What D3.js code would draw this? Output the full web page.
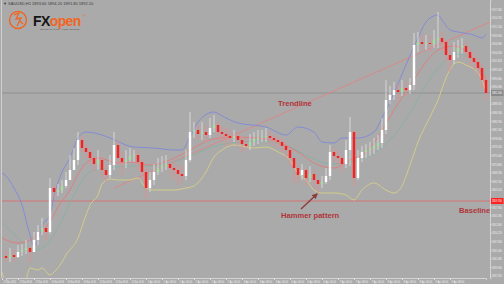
<!DOCTYPE html>
<html>
<head>
<meta charset="utf-8">
<script src="https://cdn.jsdelivr.net/npm/d3@7"></script>
<style>
  html, body { margin: 0; padding: 0; background: #aaaaaa; }
  svg { display: block; font-family: "Liberation Sans", Arial, sans-serif; }
</style>
</head>
<body>
<svg id="chart" width="504" height="284"></svg>
<script>
// hourly candles, index 0..120
const closes = [
  1842.6, 1843.5, 1842.9, 1844.4, 1845.0, 1845.6, 1844.4, 1848.0, 1850.4, 1851.6,
  1850.4, 1863.6, 1862.4, 1863.0, 1864.2, 1866.0, 1869.0, 1872.0, 1878.0, 1875.6,
  1874.4, 1872.6, 1870.8, 1872.0, 1869.0, 1867.5, 1870.5, 1876.5, 1872.6, 1871.4,
  1872.0, 1873.2, 1873.5, 1871.4, 1868.4, 1863.6, 1866.0, 1868.4, 1869.6, 1870.2,
  1870.8, 1869.6, 1869.0, 1867.8, 1867.2, 1872.0, 1880.4, 1881.0, 1879.8, 1880.4,
  1879.5, 1881.6, 1882.5, 1880.4, 1879.8, 1879.2, 1878.6, 1879.2, 1878.0, 1876.8,
  1876.2, 1877.4, 1878.3, 1878.6, 1878.9, 1879.2, 1878.6, 1878.0, 1877.4, 1876.2,
  1875.0, 1872.6, 1869.6, 1867.5, 1869.0, 1866.6, 1867.8, 1866.0, 1864.8, 1865.4,
  1867.2, 1874.4, 1873.2, 1872.6, 1870.8, 1875.0, 1880.4, 1866.6, 1872.6, 1874.4,
  1875.0, 1875.6, 1876.2, 1877.1, 1881.0, 1890.0, 1891.5, 1893.0, 1892.4, 1893.6,
  1893.0, 1894.5, 1906.5, 1907.4, 1906.8, 1907.1, 1906.8, 1908.0, 1908.6, 1907.4,
  1903.5, 1902.0, 1904.4, 1905.6, 1906.2, 1904.4, 1902.6, 1901.4, 1899.6, 1896.0,
  1892.1
];
const highs = [
  1845.0, 1845.6, 1845.0, 1846.5, 1846.8, 1848.0, 1846.2, 1850.4, 1852.5, 1854.6,
  1852.5, 1866.6, 1864.5, 1864.8, 1866.0, 1868.4, 1873.5, 1875.6, 1880.4, 1879.2,
  1876.8, 1875.6, 1873.5, 1875.0, 1873.2, 1870.5, 1873.5, 1880.4, 1878.0, 1874.4,
  1875.0, 1875.6, 1875.0, 1875.0, 1872.0, 1869.6, 1868.4, 1870.8, 1872.6, 1873.2,
  1873.5, 1872.0, 1871.4, 1870.5, 1870.2, 1875.0, 1886.4, 1883.4, 1882.5, 1883.4,
  1882.2, 1884.6, 1885.5, 1883.4, 1882.2, 1881.6, 1881.0, 1881.0, 1880.4, 1879.2,
  1878.6, 1879.8, 1880.4, 1881.0, 1881.0, 1881.6, 1881.0, 1879.8, 1879.2, 1878.6,
  1877.4, 1875.6, 1872.6, 1870.8, 1870.8, 1869.6, 1870.2, 1869.0, 1866.0, 1867.2,
  1869.6, 1876.5, 1875.6, 1875.0, 1873.2, 1878.0, 1884.9, 1881.0, 1875.0, 1876.2,
  1876.8, 1877.4, 1878.6, 1879.5, 1884.6, 1896.0, 1894.2, 1895.4, 1894.8, 1896.0,
  1895.4, 1896.6, 1910.1, 1910.4, 1909.8, 1909.5, 1909.2, 1911.0, 1916.4, 1910.4,
  1908.0, 1905.6, 1907.4, 1908.0, 1908.6, 1907.4, 1905.6, 1904.4, 1902.6, 1900.8,
  1897.2
];
const lows = [
  1841.4, 1841.4, 1841.4, 1842.6, 1843.2, 1843.8, 1841.4, 1844.4, 1846.5, 1849.5,
  1848.0, 1849.8, 1860.6, 1861.2, 1862.1, 1863.6, 1866.6, 1869.6, 1870.5, 1874.4,
  1872.6, 1870.5, 1868.4, 1869.0, 1866.6, 1865.4, 1866.6, 1869.0, 1870.5, 1867.5,
  1869.6, 1871.4, 1871.4, 1869.0, 1866.0, 1860.6, 1862.4, 1864.5, 1867.5, 1868.4,
  1869.0, 1867.5, 1866.0, 1864.5, 1865.4, 1866.0, 1871.4, 1878.6, 1878.0, 1878.0,
  1877.4, 1878.6, 1880.4, 1878.0, 1878.0, 1876.2, 1876.2, 1877.4, 1876.2, 1874.4,
  1875.0, 1875.0, 1876.2, 1876.8, 1877.4, 1877.4, 1876.8, 1876.2, 1875.6, 1874.4,
  1872.6, 1870.2, 1865.1, 1865.1, 1866.0, 1864.2, 1865.4, 1863.6, 1861.8, 1863.6,
  1864.8, 1866.0, 1871.4, 1870.5, 1868.4, 1869.6, 1870.2, 1864.2, 1866.0, 1871.4,
  1872.6, 1873.2, 1873.8, 1875.0, 1875.6, 1879.8, 1888.8, 1890.0, 1890.0, 1891.2,
  1891.2, 1891.8, 1893.0, 1904.4, 1905.0, 1905.0, 1904.4, 1905.6, 1905.6, 1905.0,
  1901.4, 1898.4, 1900.8, 1902.6, 1903.8, 1902.6, 1900.2, 1899.0, 1897.2, 1893.6,
  1890.0
];
const firstOpen = 1843.2;

// indicator lines: [candle index, price]
const upperBand = [
  [-1, 1868.1], [0, 1867.2], [2, 1863.6], [4, 1858.5], [6, 1849.5], [7, 1846.2], [8, 1848.0],
  [9, 1852.2], [11, 1855.5], [12, 1861.2], [14, 1868.4], [16, 1872.6], [18, 1878.6], [20, 1880.4],
  [24, 1879.5], [26, 1878.6], [32, 1875.9], [37, 1875.6], [42, 1875.0], [44, 1875.0], [46, 1878.9],
  [48, 1883.4], [52, 1886.4], [54, 1885.2], [58, 1883.1], [65, 1881.9], [70, 1879.5], [73, 1881.9],
  [77, 1880.4], [79, 1877.4], [82, 1877.1], [84, 1878.6], [88, 1878.6], [92, 1880.4], [94, 1884.6],
  [97, 1892.1], [100, 1900.5], [103, 1908.6], [105, 1913.4], [108, 1915.5], [109, 1914.0],
  [111, 1911.0], [113, 1910.4], [117, 1909.5], [119, 1908.6], [120, 1909.8]
];
const lowerBand = [
  [-1, 1838.4], [0, 1835.4], [3, 1833.0], [5, 1836.0], [6, 1839.6], [7, 1839.3], [8, 1839.0],
  [9, 1839.6], [11, 1837.5], [12, 1838.4], [14, 1841.4], [15, 1843.5], [18, 1848.6], [20, 1855.5],
  [21, 1858.5], [23, 1861.5], [24, 1864.8], [26, 1866.3], [28, 1866.0], [31, 1866.0], [33, 1866.6],
  [35, 1863.6], [37, 1863.0], [42, 1863.0], [45, 1863.6], [47, 1864.2], [49, 1866.6], [50, 1868.4],
  [52, 1872.9], [54, 1875.0], [57, 1876.5], [62, 1875.6], [65, 1875.9], [68, 1874.4], [71, 1872.0],
  [73, 1868.1], [75, 1866.0], [77, 1863.0], [79, 1862.1], [82, 1862.1], [85, 1861.5], [87, 1860.0],
  [89, 1863.0], [92, 1865.1], [95, 1863.0], [97, 1862.1], [99, 1864.2], [101, 1870.5], [103, 1877.4],
  [106, 1884.9], [108, 1890.0], [110, 1896.6], [112, 1900.8], [113, 1901.4], [115, 1900.5],
  [118, 1898.1], [119, 1896.0], [120, 1892.4]
];
const fastMA = [
  [-1, 1848.6], [3, 1847.1], [6, 1848.0], [8, 1849.8], [11, 1853.4], [13, 1857.9], [16, 1863.0],
  [18, 1867.8], [21, 1872.0], [23, 1872.6], [28, 1871.1], [31, 1871.4], [36, 1870.5], [41, 1872.0],
  [46, 1875.0], [51, 1878.0], [56, 1878.9], [63, 1878.6], [68, 1877.4], [73, 1874.4], [78, 1870.5],
  [82, 1869.6], [86, 1872.0], [90, 1874.4], [93, 1878.9], [97, 1887.0], [101, 1894.2], [105, 1901.4],
  [108, 1905.0], [112, 1906.2], [116, 1903.5], [120, 1896.0]
];
const slowMA = [
  [-1, 1853.4], [3, 1848.6], [7, 1845.0], [10, 1846.5], [13, 1851.6], [17, 1861.5], [21, 1868.4],
  [26, 1869.6], [31, 1870.2], [36, 1870.2], [41, 1871.1], [46, 1873.2], [51, 1875.6], [56, 1877.1],
  [63, 1877.7], [71, 1875.9], [76, 1872.9], [81, 1870.8], [86, 1871.4], [91, 1873.2], [96, 1878.0],
  [101, 1886.1], [105, 1894.5], [108, 1899.6], [113, 1903.8], [117, 1902.0], [120, 1897.5]
];
const trendline = [[27, 1863.6], [121, 1913.4]];
const baseline = 1859.7;

const priceTicks = d3.range(32).map(k => 1917.3 - 2.58 * k);
const timeLabels = [
  '27 Mar 2020', '27 Mar 08:00', '27 Mar 16:00', '30 Mar 00:00', '30 Mar 08:00', '30 Mar 16:00',
  '31 Mar 00:00', '31 Mar 08:00', '31 Mar 16:00', '1 Apr 00:00', '1 Apr 08:00', '1 Apr 16:00',
  '2 Apr 00:00', '2 Apr 08:00', '2 Apr 16:00', '3 Apr 00:00', '3 Apr 08:00', '3 Apr 16:00',
  '6 Apr 00:00', '6 Apr 08:00', '6 Apr 16:00', '7 Apr 00:00', '7 Apr 08:00', '7 Apr 16:00',
  '8 Apr 00:00', '8 Apr 08:00', '8 Apr 16:00', '9 Apr 00:00', '9 Apr 08:00'
];

const svg = d3.select('#chart');
const W = 504, H = 284;
const plotRight = 490, plotBottom = 278;
const squeeze = 0.62; // horizontal squeeze for the narrow price labels

const x = d3.scaleLinear().domain([0, 120]).range([6, 486]);
const y = d3.scaleLinear().domain([1836.6, 1920]).range([plotBottom, 0]);
const lastClose = closes[closes.length - 1];

svg.append('rect').attr('width', W).attr('height', H).attr('fill', '#aaaaaa');

svg.append('defs').append('clipPath').attr('id', 'plot')
  .append('rect').attr('x', 2).attr('y', 0).attr('width', plotRight - 2).attr('height', plotBottom);

const plot = svg.append('g').attr('clip-path', 'url(#plot)');

// horizontal levels
plot.append('line')
  .attr('x1', 0).attr('x2', plotRight)
  .attr('y1', y(lastClose)).attr('y2', y(lastClose))
  .attr('stroke', '#8c8c8c').attr('stroke-width', 0.8);
plot.append('line')
  .attr('x1', 0).attr('x2', plotRight)
  .attr('y1', y(baseline)).attr('y2', y(baseline))
  .attr('stroke', '#e06464').attr('stroke-width', 0.8);

// trendline
plot.append('line')
  .attr('x1', x(trendline[0][0])).attr('y1', y(trendline[0][1]))
  .attr('x2', x(trendline[1][0])).attr('y2', y(trendline[1][1]))
  .attr('stroke', '#e48080').attr('stroke-width', 0.8);

const line = d3.line().x(d => x(d[0])).y(d => y(d[1])).curve(d3.curveMonotoneX);
const lines = [
  [upperBand, '#8088d8'],
  [lowerBand, '#d6cf86'],
  [slowMA, '#88b0a4'],
  [fastMA, '#e27a7a']
];
lines.forEach(([data, color]) => {
  plot.append('path').datum(data)
    .attr('d', line).attr('fill', 'none')
    .attr('stroke', color).attr('stroke-width', 0.9);
});

// candles
const candles = closes.map((c, i) => ({
  i, c, o: i === 0 ? firstOpen : closes[i - 1], h: highs[i], l: lows[i]
}));
const bodyColor = d => d.c < d.o ? '#ff1e1e' : (d.c - d.o < 1.5 ? '#a6dca0' : '#ffffff');

const cg = plot.append('g').selectAll('g').data(candles).enter().append('g');
cg.append('line')
  .attr('x1', d => x(d.i)).attr('x2', d => x(d.i))
  .attr('y1', d => y(d.h)).attr('y2', d => y(d.l))
  .attr('stroke', d => d.c < d.o ? '#ec8a8a' : '#dcdcdc')
  .attr('stroke-width', 0.9);
cg.append('rect')
  .attr('x', d => x(d.i) - 1.2)
  .attr('width', 2.4)
  .attr('y', d => y(Math.max(d.o, d.c)))
  .attr('height', d => Math.max(1, Math.abs(y(d.o) - y(d.c))))
  .attr('fill', bodyColor);

// frame
svg.append('line').attr('x1', 1.5).attr('x2', 1.5).attr('y1', 0).attr('y2', plotBottom)
  .attr('stroke', '#cfcfcf').attr('stroke-width', 1);

// right price axis, skipping ticks hidden by the two price tags
const tagged = [lastClose, baseline];
const shownTicks = priceTicks.filter(v => tagged.every(t => Math.abs(y(v) - y(t)) > 5));
const yAxis = svg.append('g').attr('transform', `translate(${plotRight},0)`)
  .call(d3.axisRight(y).tickValues(shownTicks).tickSize(1.5).tickPadding(0.5).tickFormat(d3.format('.3f')));
yAxis.select('.domain').attr('stroke', '#dedede').attr('stroke-width', 0.8);
yAxis.selectAll('line').attr('stroke', '#dedede');
yAxis.selectAll('text').attr('fill', '#f0f0f0').attr('font-size', 3.8)
  .attr('x', 2 / squeeze).attr('transform', `scale(${squeeze},1)`);

// bottom time axis
const xAxis = svg.append('g').attr('transform', `translate(0,${plotBottom})`)
  .call(d3.axisBottom(x).tickValues(timeLabels.map((t, k) => k * 4 - 1))
    .tickSize(2).tickPadding(1).tickFormat((d, k) => timeLabels[k]));
xAxis.select('.domain').attr('stroke', '#dedede').attr('stroke-width', 0.8);
xAxis.selectAll('line').attr('stroke', '#dedede');
xAxis.selectAll('text').attr('fill', '#f0f0f0').attr('font-size', 2.6)
  .attr('text-anchor', 'start').attr('dx', 1)
  .attr('textLength', 12.5).attr('lengthAdjust', 'spacingAndGlyphs');

// price tags for current price and baseline
const tags = [[lastClose, '#8a8a8a'], [baseline, '#ff2020']];
tags.forEach(([v, color]) => {
  svg.append('rect').attr('x', plotRight + 1).attr('y', y(v) - 3).attr('width', 12.5).attr('height', 6)
    .attr('fill', color);
  svg.append('text').attr('x', (plotRight + 2) / squeeze).attr('y', y(v) + 1.3)
    .attr('transform', `scale(${squeeze},1)`)
    .attr('font-size', 3.8).attr('fill', '#ffffff')
    .text(d3.format('.3f')(v));
});

// symbol line
svg.append('text').attr('x', 3).attr('y', 5).attr('font-size', 4).attr('fill', '#3a3a3a')
  .text('\u25BC XAUUSD,H1  1893.60 1894.20 1891.80 1892.10');

// logo
const logo = svg.append('g');
logo.append('circle').attr('cx', 18).attr('cy', 20).attr('r', 8.5)
  .attr('fill', 'none').attr('stroke', '#f26522').attr('stroke-width', 1.4);
logo.append('path').attr('d', 'M14 15 L19 13 L16 19 L21 18 L17 26 M20 21 L23 24')
  .attr('fill', 'none').attr('stroke', '#f26522').attr('stroke-width', 1.3);
logo.append('text').attr('x', 33).attr('y', 25.5).attr('font-size', 14).attr('font-weight', 'bold')
  .attr('letter-spacing', -0.6)
  .call(t => {
    t.append('tspan').attr('fill', '#151515').text('FX');
    t.append('tspan').attr('fill', '#f26522').text('open');
  });
logo.append('text').attr('x', 83).attr('y', 17).attr('font-size', 4).attr('fill', '#f26522').text('\u00AE');
logo.append('text').attr('x', 40).attr('y', 29.5).attr('font-size', 2.3).attr('fill', '#555')
  .text('ONLINE TRADING  \u00B7  FOREX BROKER');

// annotations
const note = (tx, ty, s) => svg.append('text').attr('x', tx).attr('y', ty)
  .attr('font-size', 7.6).attr('font-weight', 'bold').attr('fill', '#b0353a').text(s);
note(278, 106, 'Trendline');
note(281, 218, 'Hammer pattern');
note(459, 213, 'Baseline');

svg.append('defs').append('marker').attr('id', 'head')
  .attr('viewBox', '0 0 10 10').attr('refX', 8).attr('refY', 5)
  .attr('markerWidth', 4).attr('markerHeight', 4).attr('orient', 'auto')
  .append('path').attr('d', 'M0 0 L10 5 L0 10 z').attr('fill', '#8a3c3c');
svg.append('line').attr('x1', 301).attr('y1', 209).attr('x2', 317).attr('y2', 194)
  .attr('stroke', '#8a3c3c').attr('stroke-width', 1.4).attr('marker-end', 'url(#head)');
</script>
</body>
</html>
